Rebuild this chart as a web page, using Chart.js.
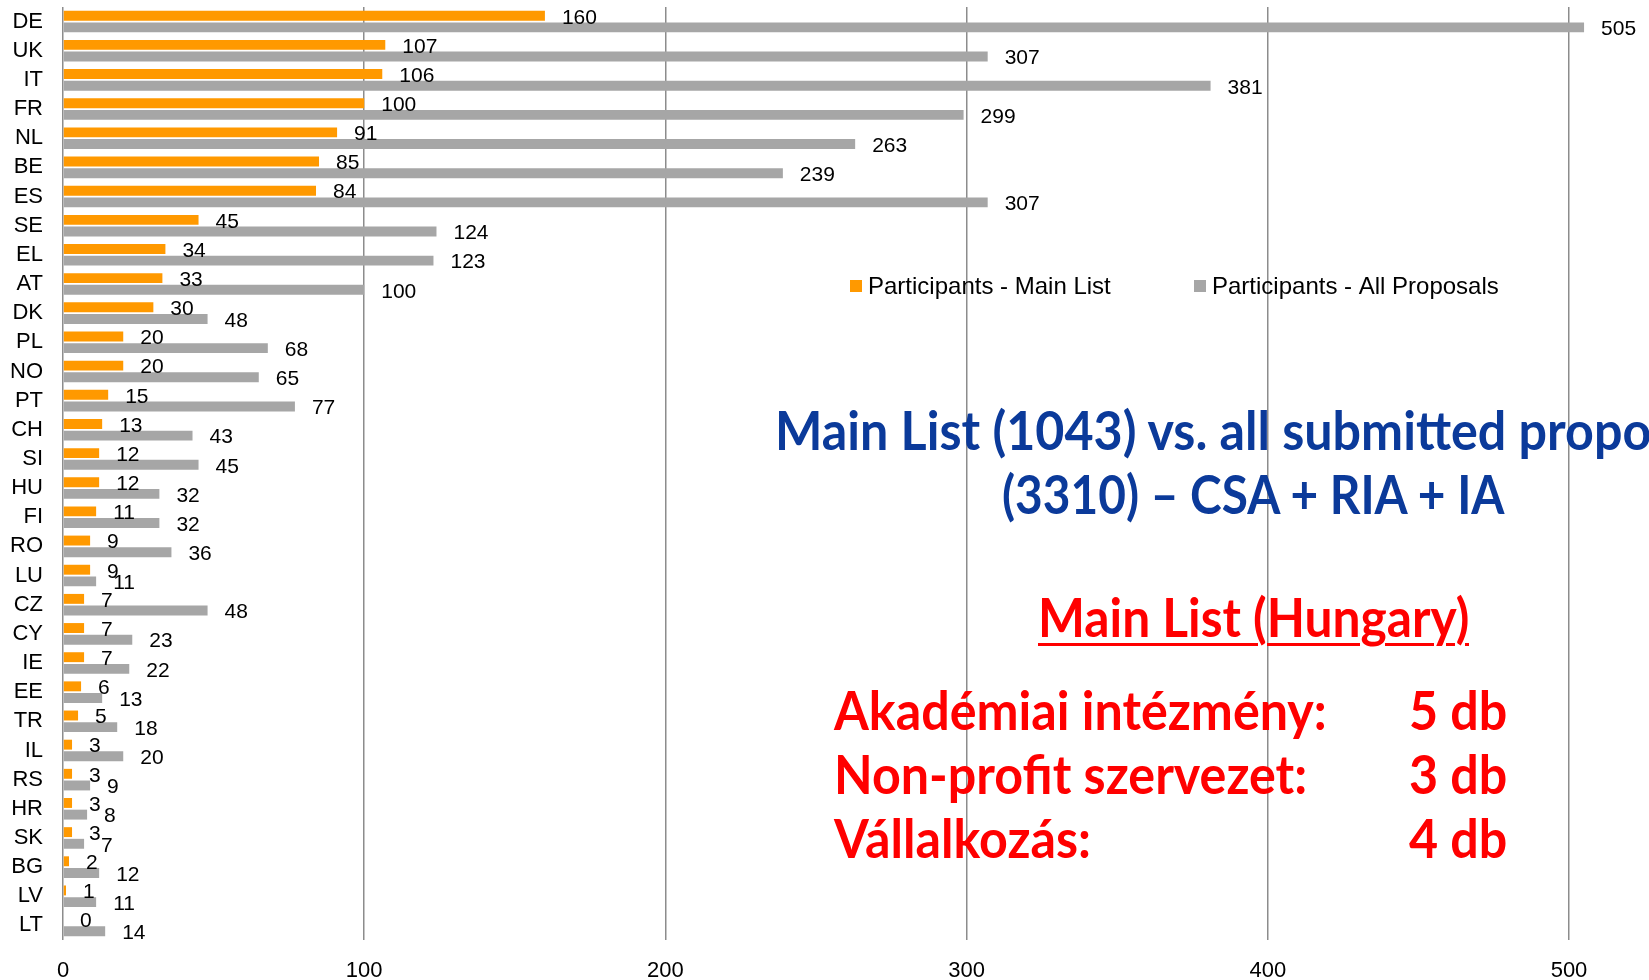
<!DOCTYPE html>
<html>
<head>
<meta charset="utf-8">
<script src="https://cdn.jsdelivr.net/npm/chart.js@4.4.0/dist/chart.umd.min.js"></script>
<style>
  html, body { margin: 0; padding: 0; background: #fff; overflow: hidden; }
  #wrap { position: relative; width: 1649px; height: 980px; overflow: hidden; }
  .note { position: absolute; font-family: Lato, "Open Sans", sans-serif; font-weight: bold; font-size: 54px; line-height: 54px; white-space: nowrap; transform-origin: left top; transform: scaleX(0.93); }
  .blue { color: #0b3a9a; }
  .red { color: #ff0000; }
</style>
</head>
<body>
<div id="wrap">
  <canvas id="barChart" width="1649" height="980"></canvas>
  <div class="note blue" style="left:775px; top:403px;">Main List (1043) vs. all submitted proposals</div>
  <div class="note blue" style="left:1002px; top:467px; transform: scaleX(0.885);">(3310) – CSA + RIA + IA</div>
  <div class="note red" style="left:1038px; top:590px; transform: scaleX(0.92); text-decoration: underline; text-decoration-thickness: 3px; text-underline-offset: 6px;">Main List (Hungary)</div>
  <div class="note red" style="left:834px; top:683px;">Akadémiai intézmény:</div>
  <div class="note red" style="left:834px; top:747px;">Non-profit szervezet:</div>
  <div class="note red" style="left:834px; top:811px;">Vállalkozás:</div>
  <div class="note red" style="left:1409px; top:683px;">5 db</div>
  <div class="note red" style="left:1409px; top:747px;">3 db</div>
  <div class="note red" style="left:1409px; top:811px;">4 db</div>
</div>
<script>
// countries, top to bottom
const countries = ["DE", "UK", "IT", "FR", "NL", "BE", "ES", "SE", "EL", "AT", "DK", "PL", "NO", "PT", "CH", "SI",
  "HU", "FI", "RO", "LU", "CZ", "CY", "IE", "EE", "TR", "IL", "RS", "HR", "SK", "BG", "LV", "LT"];

const mainList = [160, 107, 106, 100, 91, 85, 84, 45, 34, 33, 30, 20, 20, 15, 13, 12,
  12, 11, 9, 9, 7, 7, 7, 6, 5, 3, 3, 3, 3, 2, 1, 0];

const allProposals = [505, 307, 381, 299, 263, 239, 307, 124, 123, 100, 48, 68, 65, 77, 43, 45,
  32, 32, 36, 11, 48, 23, 22, 13, 18, 20, 9, 8, 7, 12, 11, 14];

const xTicks = [0, 100, 200, 300, 400, 500];

const seriesNames = ["Participants - Main List", "Participants - All Proposals"];

/* value labels next to every bar */
const valueLabels = {
  id: "valueLabels",
  afterDatasetsDraw(chart) {
    const ctx = chart.ctx;
    ctx.save();
    ctx.font = "21px 'Liberation Sans', Arial, sans-serif";
    ctx.fillStyle = "#000";
    ctx.textAlign = "left";
    ctx.textBaseline = "middle";
    chart.data.datasets.forEach((ds, i) => {
      chart.getDatasetMeta(i).data.forEach((bar, j) => {
        ctx.fillText(String(ds.data[j]), bar.x + 17, bar.y + 2);
      });
    });
    ctx.restore();
  }
};

/* legend inside the plot */
const innerLegend = {
  id: "innerLegend",
  afterDraw(chart) {
    const ctx = chart.ctx;
    const spots = [850, 1194];
    ctx.save();
    ctx.font = "24px 'Liberation Sans', Arial, sans-serif";
    ctx.textBaseline = "middle";
    ctx.textAlign = "left";
    chart.data.datasets.forEach((ds, i) => {
      ctx.fillStyle = ds.backgroundColor;
      ctx.fillRect(spots[i], 280, 12, 12);
      ctx.fillStyle = "#000";
      ctx.fillText(ds.label, spots[i] + 18, 287);
    });
    ctx.restore();
  }
};

const config = {
  type: "bar",
  data: {
    labels: countries,
    datasets: [
      {
        label: seriesNames[0],
        data: mainList,
        backgroundColor: "#ff9900",
        categoryPercentage: 0.8,
        barPercentage: 0.85,
        clip: false
      },
      {
        label: seriesNames[1],
        data: allProposals,
        backgroundColor: "#a6a6a6",
        categoryPercentage: 0.8,
        barPercentage: 0.85,
        clip: false
      }
    ]
  },
  options: {
    indexAxis: "y",
    responsive: false,
    animation: false,
    layout: { padding: { top: 7, right: 80, left: 0, bottom: 0 } },
    plugins: {
      legend: { display: false },
      tooltip: { enabled: false }
    },
    scales: {
      x: {
        min: 0,
        max: 500,
        afterBuildTicks: (axis) => { axis.ticks = xTicks.map(v => ({ value: v })); },
        afterFit: (axis) => { axis.height = 40; axis.paddingLeft = 0; axis.paddingRight = 0; },
        grid: { color: "#8c8c8c", lineWidth: 1.5, drawTicks: false },
        border: { display: false },
        ticks: { color: "#000", padding: 18, font: { family: "'Liberation Sans', Arial, sans-serif", size: 22 } }
      },
      y: {
        afterFit: (axis) => { axis.width = 63; axis.paddingTop = 0; axis.paddingBottom = 0; },
        grid: { display: false, drawTicks: false },
        border: { display: false },
        ticks: { color: "#000", padding: 20, autoSkip: false, font: { family: "'Liberation Sans', Arial, sans-serif", size: 22 } }
      }
    }
  },
  plugins: [valueLabels, innerLegend]
};

const barChart = new Chart(document.getElementById("barChart"), config);
</script>
</body>
</html>
